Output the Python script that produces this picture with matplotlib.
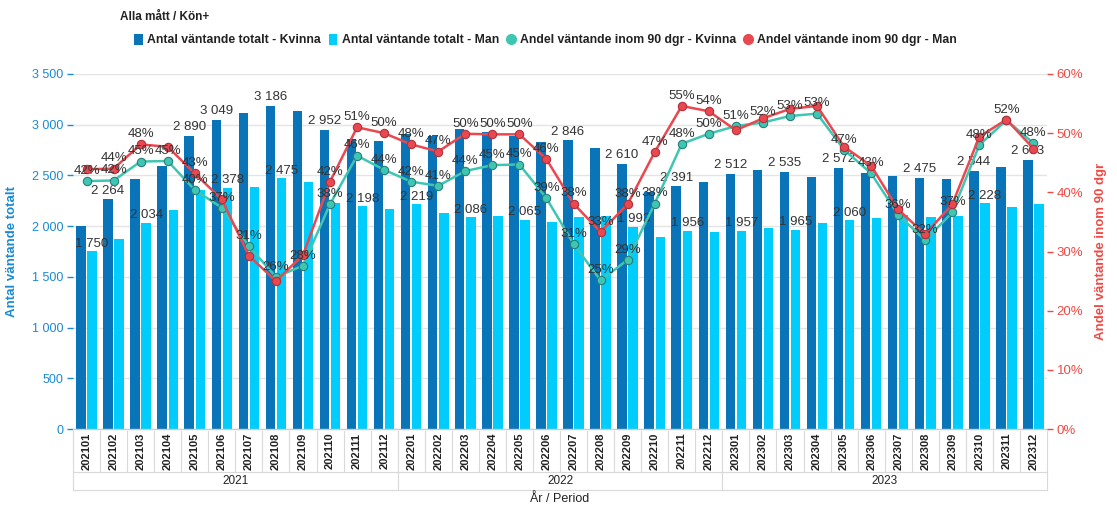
import matplotlib
matplotlib.use("Agg")
import matplotlib.pyplot as plt
from matplotlib.patches import Patch
from matplotlib.lines import Line2D
from matplotlib.ticker import FuncFormatter, MultipleLocator
import matplotlib.transforms as mtransforms

plt.rcParams['font.family'] = ['Liberation Sans', 'DejaVu Sans']

# ---------------- data ----------------
years = ["2021", "2022", "2023"]
periods = [f"{y}{m:02d}" for y in years for m in range(1, 13)]

antal_kvinna = [2002, 2264, 2462, 2594, 2890, 3049, 3119, 3186, 3139, 2952, 2857, 2843,
                2910, 2890, 2958, 2932, 2888, 2833, 2846, 2771, 2610, 2340, 2391, 2439,
                2512, 2554, 2535, 2482, 2572, 2521, 2498, 2475, 2462, 2544, 2580, 2653]
antal_man = [1750, 1871, 2034, 2160, 2360, 2378, 2390, 2475, 2439, 2230, 2198, 2166,
             2219, 2127, 2086, 2100, 2065, 2038, 2094, 2100, 1993, 1897, 1956, 1946,
             1957, 1979, 1965, 2028, 2060, 2084, 2110, 2094, 2104, 2228, 2192, 2216]
andel_kvinna = [41.9, 42.0, 45.2, 45.3, 40.4, 37.4, 30.9, 25.7, 27.6, 38.0, 46.2, 43.8,
                41.8, 41.1, 43.6, 44.6, 44.7, 39.0, 31.3, 25.1, 28.6, 38.1, 48.2, 49.9,
                51.2, 51.8, 52.9, 53.3, 47.2, 43.2, 36.2, 31.9, 36.6, 48.0, 52.2, 48.3]
andel_man = [43.9, 44.0, 48.1, 47.7, 43.2, 38.8, 29.3, 25.0, 29.4, 41.8, 51.0, 50.0,
             48.1, 46.9, 49.9, 49.8, 49.8, 45.6, 38.1, 33.3, 38.0, 46.8, 54.6, 53.7,
             50.5, 52.5, 54.1, 54.6, 47.7, 44.5, 37.1, 32.9, 38.0, 49.4, 52.3, 47.4]

# which data labels are visible in the original
lbl_kvinna_bar = [1, 4, 5, 7, 9, 18, 20, 22, 24, 26, 28, 31, 33, 35]
lbl_man_bar = [0, 2, 5, 7, 10, 12, 14, 16, 20, 22, 24, 26, 28, 33]
lbl_andel_kvinna = list(range(36))
lbl_andel_man = [1, 2, 4, 9, 10, 11] + list(range(12, 24))

series_names = ["Antal väntande totalt - Kvinna", "Antal väntande totalt - Man",
                "Andel väntande inom 90 dgr - Kvinna", "Andel väntande inom 90 dgr - Man"]

# ---------------- style ----------------
C_DARK = "#0a74b9"
C_LIGHT = "#00cdfc"
C_TEAL = "#3fc6b2"
C_TEAL_EDGE = "#2b7d78"
C_RED = "#ea4850"
C_RED_EDGE = "#b0303a"
C_LEFT = "#1a8ad4"
C_RIGHT = "#ef4a45"
TXT = "#333333"

W, H = 1117, 505
fig = plt.figure(figsize=(W / 100, H / 100), dpi=100)
ax = fig.add_axes([73 / W, 1 - 429 / H, (1047 - 73) / W, (429 - 74) / H])
ax2 = ax.twinx()

x = list(range(len(periods)))
bw = 0.35
off = 0.205
xd = [i - off for i in x]
xl = [i + off for i in x]
ax.bar(xd, antal_kvinna, width=bw, color=C_DARK, zorder=2)
ax.bar(xl, antal_man, width=bw, color=C_LIGHT, zorder=2)

ax.set_xlim(-0.5, len(periods) - 0.5)
ax.set_ylim(0, 3500)
ax.yaxis.set_major_locator(MultipleLocator(500))
ax.yaxis.set_major_formatter(FuncFormatter(lambda v, p: f"{int(v):,}".replace(",", " ")))
ax.grid(axis='y', color="#e4e4e4", linewidth=1, zorder=0)
ax.set_axisbelow(True)
for s in ax.spines.values():
    s.set_visible(False)
for s in ax2.spines.values():
    s.set_visible(False)
ax.tick_params(axis='y', colors=C_LEFT, labelsize=9, length=4, width=1, pad=3)
ax.tick_params(axis='x', bottom=False, labelbottom=False)
ax.set_ylabel("Antal väntande totalt", color=C_LEFT, fontsize=9.5, fontweight='bold', labelpad=10)

def fmt_num(v):
    return f"{v:,}".replace(",", " ")

for i in lbl_kvinna_bar:
    ax.annotate(fmt_num(antal_kvinna[i]), (xd[i], antal_kvinna[i]), xytext=(0, 2),
                textcoords='offset points', ha='center', va='bottom', fontsize=9.5,
                color=TXT, zorder=5)
for i in lbl_man_bar:
    ax.annotate(fmt_num(antal_man[i]), (xl[i], antal_man[i]), xytext=(0, 1),
                textcoords='offset points', ha='center', va='bottom', fontsize=9.5,
                color=TXT, zorder=5)

# lines
ax2.plot(x, andel_kvinna, color=C_TEAL, lw=1.8, marker='o', ms=6,
         mfc=C_TEAL, mec=C_TEAL_EDGE, mew=0.8, zorder=3)
ax2.plot(x, andel_man, color=C_RED, lw=1.8, marker='o', ms=6,
         mfc=C_RED, mec=C_RED_EDGE, mew=0.8, zorder=4)
ax2.set_ylim(0, 60)
ax2.yaxis.set_major_locator(MultipleLocator(10))
ax2.yaxis.set_major_formatter(FuncFormatter(lambda v, p: f"{int(v)}%"))
ax2.tick_params(axis='y', colors=C_RIGHT, labelsize=9.5, length=4, width=1, pad=3)
ax2.set_ylabel("Andel väntande inom 90 dgr", color=C_RIGHT, fontsize=9.5,
               fontweight='bold', labelpad=8)

for i in lbl_andel_kvinna:
    ax2.annotate(f"{round(andel_kvinna[i])}%", (x[i], andel_kvinna[i]), xytext=(0, 3),
                 textcoords='offset points', ha='center', va='bottom', fontsize=9.5,
                 color=TXT, zorder=6)
for i in lbl_andel_man:
    ax2.annotate(f"{round(andel_man[i])}%", (x[i], andel_man[i]), xytext=(0, 3),
                 textcoords='offset points', ha='center', va='bottom', fontsize=9.5,
                 color=TXT, zorder=6)

# ---------------- x-axis table ----------------
tr = mtransforms.blended_transform_factory(ax.transData, ax.transAxes)
def yf(py):
    return (429 - py) / (429 - 74)

GRID_C = "#d9d9d9"
ax.plot([-0.5, len(periods) - 0.5], [0, 0], transform=tr, color="#cccccc", lw=1, clip_on=False)
for b in range(len(periods) + 1):
    ax.plot([b - 0.5, b - 0.5], [yf(431), yf(472)], transform=tr, color=GRID_C,
            lw=0.8, clip_on=False)
for i, p in enumerate(periods):
    ax.text(i, yf(451), p, transform=tr, rotation=90, ha='center', va='center',
            fontsize=8, fontweight='bold', color="#222222")
# year row
ax.plot([-0.5, len(periods) - 0.5], [yf(472), yf(472)], transform=tr, color=GRID_C, lw=0.8, clip_on=False)
ax.plot([-0.5, len(periods) - 0.5], [yf(490), yf(490)], transform=tr, color=GRID_C, lw=0.8, clip_on=False)
for k in range(len(years) + 1):
    xb = k * 12 - 0.5
    ax.plot([xb, xb], [yf(472), yf(490)], transform=tr, color=GRID_C, lw=0.8, clip_on=False)
for k, yv in enumerate(years):
    ax.text(k * 12 + 5.5, yf(481), yv, transform=tr, ha='center', va='center',
            fontsize=8.5, color="#222222")
ax.text(17.5, yf(499), "År / Period", transform=tr, ha='center', va='center',
        fontsize=9, color="#222222")

# ---------------- legend ----------------
fig.text(120 / W, 1 - 17 / H, "Alla mått / Kön+", ha='left', va='center',
         fontsize=8.5, fontweight='bold', color="#222222")
handles = [
    Patch(facecolor=C_DARK, edgecolor='none'),
    Patch(facecolor=C_LIGHT, edgecolor='none'),
    Line2D([], [], marker='o', ls='none', ms=7, mfc=C_TEAL, mec=C_TEAL),
    Line2D([], [], marker='o', ls='none', ms=7, mfc=C_RED, mec=C_RED),
]
leg = fig.legend(handles, series_names, loc='center left', bbox_to_anchor=(134 / W, 1 - 40 / H),
                 ncol=4, frameon=False, fontsize=8.8, handlelength=0.7, handleheight=1.0,
                 handletextpad=0.4, columnspacing=0.6, borderaxespad=0, borderpad=0)
for t in leg.get_texts():
    t.set_fontweight('bold')
    t.set_color("#222222")

fig.savefig("out.png", dpi=100)
